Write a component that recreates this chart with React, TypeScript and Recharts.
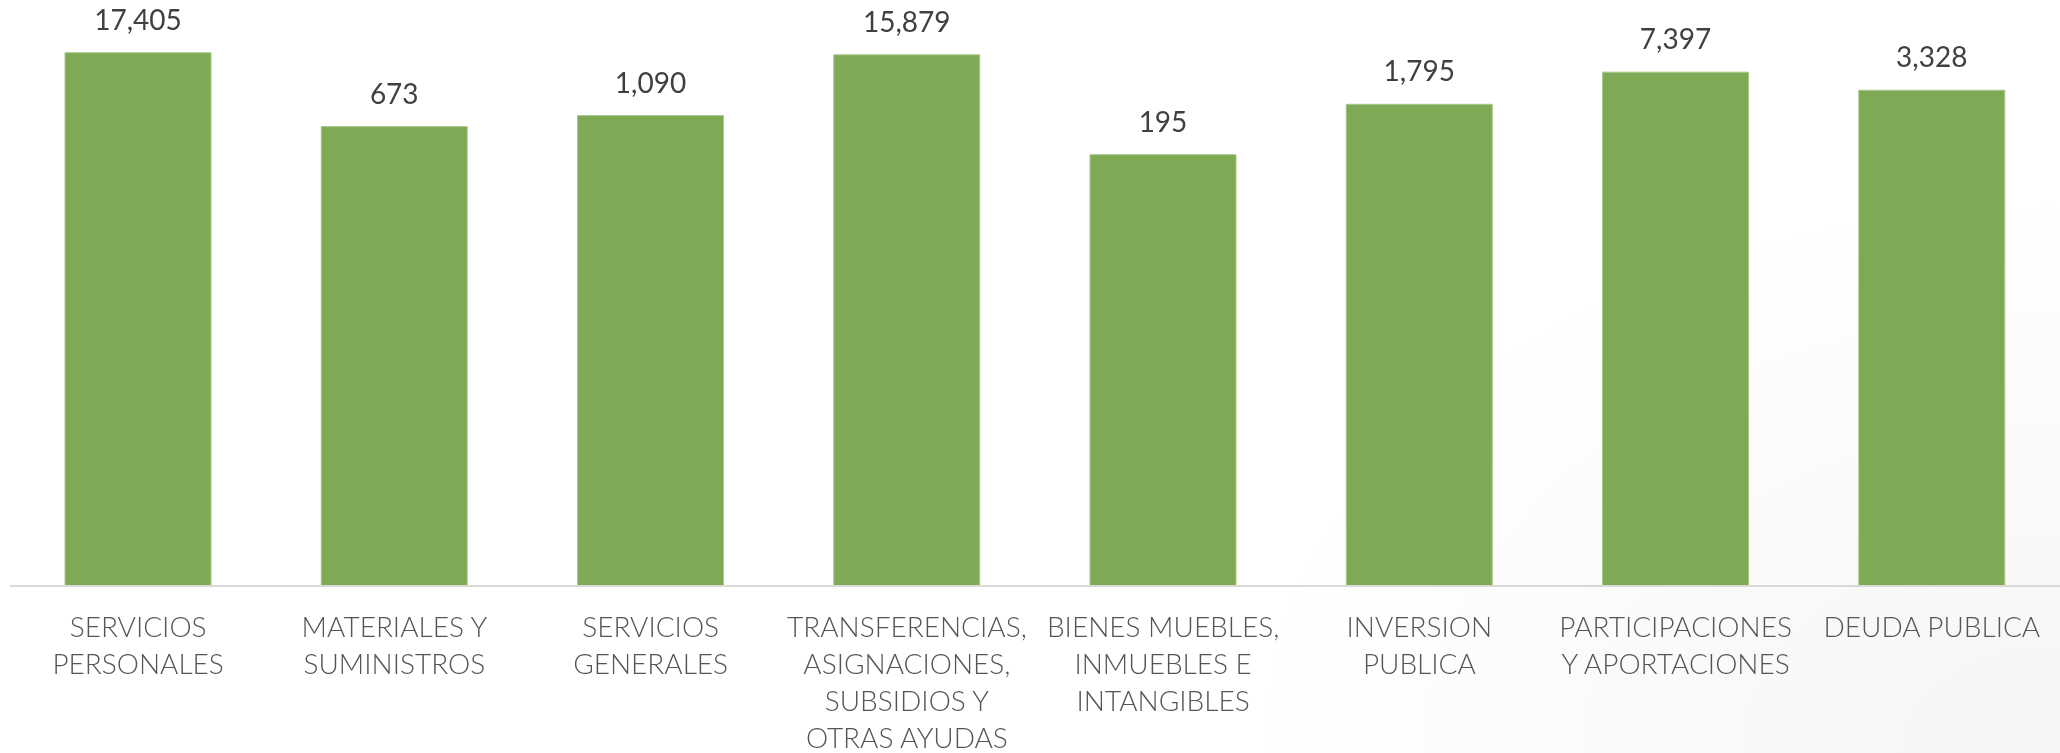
import React from 'react';
import { BarChart, Bar, XAxis, YAxis, LabelList } from 'recharts';

const categories = [
  'SERVICIOS\nPERSONALES',
  'MATERIALES Y\nSUMINISTROS',
  'SERVICIOS\nGENERALES',
  'TRANSFERENCIAS,\nASIGNACIONES,\nSUBSIDIOS Y\nOTRAS AYUDAS',
  'BIENES MUEBLES,\nINMUEBLES E\nINTANGIBLES',
  'INVERSION\nPUBLICA',
  'PARTICIPACIONES\nY APORTACIONES',
  'DEUDA PUBLICA',
];

const values = [17405, 673, 1090, 15879, 195, 1795, 7397, 3328];

const data = categories.map((name, i) => ({ name, value: values[i] }));

const FONT = 'Lato, "Open Sans", sans-serif';

const CategoryTick = (props: any) => {
  const { x, y, payload } = props;
  const lines: string[] = String(payload.value).split('\n');
  return (
    <text x={x} y={y + 43} textAnchor="middle" fill="#555555" fontFamily={FONT} fontWeight={300} fontSize={28}>
      {lines.map((l, i) => (
        <tspan key={i} x={x} dy={i === 0 ? 0 : 37}>
          {l}
        </tspan>
      ))}
    </text>
  );
};

export default function App() {
  return (
    <div
      style={{
        position: 'fixed',
        left: 0,
        top: 0,
        width: 2060,
        height: 753,
        background: 'radial-gradient(ellipse 800px 550px at 100% 100%, #f5f5f5 0%, #ffffff 100%)',
      }}
    >
      <BarChart
        width={2060}
        height={753}
        data={data}
        margin={{ top: 13, right: 0, left: 10, bottom: 7 }}
        barSize={146}
      >
        <XAxis
          dataKey="name"
          interval={0}
          height={160}
          tickLine={false}
          axisLine={{ stroke: '#d9d9d9', strokeWidth: 2 }}
          tick={<CategoryTick />}
        />
        <YAxis hide type="number" scale="log" domain={[1.1e-6, 1e5]} allowDataOverflow />
        <Bar dataKey="value" fill="#7faa55" stroke="#a8c88a" strokeWidth={1} isAnimationActive={false}>
          <LabelList
            dataKey="value"
            position="top"
            offset={23}
            fill="#404040"
            fontFamily={FONT}
            fontWeight={400}
            fontSize={28}
            formatter={(v: any) => Number(v).toLocaleString('en-US')}
          />
        </Bar>
      </BarChart>
    </div>
  );
}
